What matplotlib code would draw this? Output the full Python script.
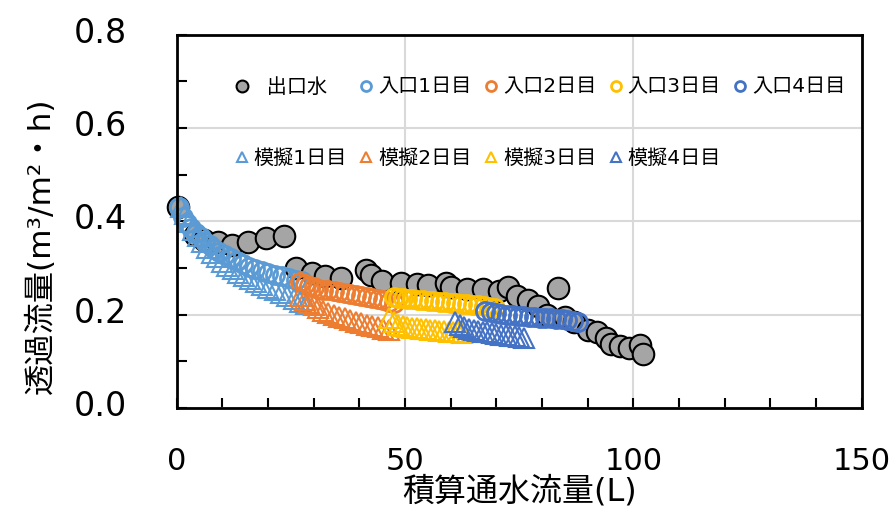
import matplotlib
matplotlib.use("Agg")
import matplotlib.pyplot as plt
from matplotlib.ticker import MultipleLocator, FormatStrFormatter
from matplotlib.transforms import ScaledTranslation

plt.rcParams['font.family'] = ['DejaVu Sans', 'Noto Sans CJK JP']

# 出口水
out_x = [0.3, 4, 6, 9, 12, 15.5, 19.5, 23.5, 26, 29.5, 32.5, 36, 41.5, 42.5, 45, 49,
         52.5, 55, 59, 60, 63.5, 67, 70.5, 72.5, 74.5, 77, 79, 83.5, 81, 85, 87, 90,
         92, 94, 95, 97, 99, 101.5, 102]
out_y = [0.43, 0.37, 0.36, 0.355, 0.35, 0.355, 0.365, 0.368, 0.30, 0.29, 0.282, 0.278,
         0.296, 0.285, 0.272, 0.268, 0.265, 0.264, 0.267, 0.26, 0.256, 0.256, 0.25, 0.26,
         0.24, 0.232, 0.218, 0.258, 0.20, 0.195, 0.184, 0.168, 0.162, 0.15, 0.138, 0.132,
         0.128, 0.135, 0.115]

# 入口 (circles)
in1_x = [0.5, 1.3, 2.2, 3.2, 4.2, 5.2, 6.2, 7.2, 8.2, 9.3, 10.5, 11.8, 13.1, 14.4,
         15.8, 17.2, 18.6, 20, 21.5, 23, 24.5, 26, 27.5]
in1_y = [0.43, 0.41, 0.397, 0.385, 0.375, 0.366, 0.357, 0.349, 0.342, 0.335, 0.328,
         0.321, 0.315, 0.309, 0.303, 0.298, 0.294, 0.29, 0.286, 0.282, 0.278, 0.275, 0.272]
in2_x = [27, 28, 29, 30, 31, 32, 33.2, 34.4, 35.6, 36.8, 38, 39.2, 40.4, 41.6, 42.8,
         44, 45.2, 46.4, 47.6]
in2_y = [0.27, 0.265, 0.262, 0.259, 0.256, 0.254, 0.252, 0.25, 0.248, 0.246, 0.244,
         0.242, 0.24, 0.238, 0.236, 0.234, 0.231, 0.228, 0.225]
in3_x = [47.5, 48.5, 49.5, 50.5, 51.6, 52.8, 54, 55.2, 56.4, 57.6, 58.8, 60, 61.2,
         62.4, 63.6, 64.8, 66, 67.2, 68.4, 69.6]
in3_y = [0.238, 0.236, 0.235, 0.234, 0.233, 0.232, 0.231, 0.23, 0.229, 0.228, 0.227,
         0.226, 0.225, 0.224, 0.222, 0.221, 0.22, 0.218, 0.216, 0.214]
in4_x = [67.5, 68.7, 69.9, 71.1, 72.3, 73.5, 74.7, 75.9, 77.1, 78.3, 79.5, 80.7, 81.9,
         83.1, 84.3, 85.5, 86.7, 87.9]
in4_y = [0.207, 0.205, 0.203, 0.202, 0.2, 0.199, 0.198, 0.197, 0.196, 0.195, 0.194,
         0.193, 0.192, 0.191, 0.19, 0.189, 0.187, 0.185]

# 模擬 (triangles)
sim1_x = [1, 1.8, 2.7, 3.6, 4.6, 5.6, 6.6, 7.6, 8.7, 9.8, 11, 12.2, 13.4, 14.7, 16,
          17.3, 18.6, 20, 21.4, 22.8, 24.2, 25.6, 27, 28.2]
sim1_y = [0.43, 0.415, 0.398, 0.382, 0.368, 0.355, 0.343, 0.333, 0.323, 0.314, 0.305,
          0.297, 0.29, 0.283, 0.276, 0.27, 0.264, 0.258, 0.252, 0.246, 0.24, 0.234,
          0.228, 0.222]
sim2_x = [27, 28, 29, 30, 31, 32, 33.2, 34.4, 35.6, 36.8, 38, 39.2, 40.4, 41.6, 42.8,
          44, 45.2, 46.4]
sim2_y = [0.24, 0.232, 0.226, 0.22, 0.214, 0.209, 0.204, 0.2, 0.196, 0.192, 0.188,
          0.185, 0.182, 0.179, 0.176, 0.173, 0.17, 0.167]
sim3_x = [46.5, 47.5, 48.5, 49.5, 50.5, 51.5, 52.5, 53.5, 54.5, 55.5, 56.5, 57.5,
          58.5, 59.5, 60.5, 61.5, 62.5]
sim3_y = [0.193, 0.185, 0.178, 0.175, 0.173, 0.172, 0.171, 0.17, 0.169, 0.168, 0.167,
          0.166, 0.165, 0.164, 0.163, 0.162, 0.161]
sim4_x = [61, 62, 63, 64, 65, 66, 67, 68, 69, 70, 71, 72, 73, 74, 75, 76]
sim4_y = [0.185, 0.178, 0.173, 0.17, 0.168, 0.166, 0.164, 0.162, 0.16, 0.158, 0.157,
          0.156, 0.155, 0.154, 0.152, 0.15]

day_colors = ['#5B9BD5', '#ED7D31', '#FFC000', '#4472C4']
in_series = [(in1_x, in1_y), (in2_x, in2_y), (in3_x, in3_y), (in4_x, in4_y)]
sim_series = [(sim1_x, sim1_y), (sim2_x, sim2_y), (sim3_x, sim3_y), (sim4_x, sim4_y)]

fig = plt.figure(figsize=(8.93, 5.12), dpi=100)
ax = fig.add_axes([0.198, 0.203, 0.767, 0.729])

ax.plot(out_x, out_y, 'o', ls='none', ms=15.5, mfc='#A5A5A5', mec='black', mew=1.5,
        clip_on=False, label='  出口水')
for i, (x, y) in enumerate(in_series):
    ax.plot(x, y, 'o', ls='none', ms=13, mfc='none', mec=day_colors[i], mew=2,
            clip_on=False, label=f'入口{i + 1}日目')
for i, (x, y) in enumerate(sim_series):
    ax.plot(x, y, '^', ls='none', ms=14, mfc='none', mec=day_colors[i], mew=1.5,
            clip_on=False, label=f'模擬{i + 1}日目')

ax.set_xlim(0, 150)
ax.set_ylim(0, 0.8)
ax.xaxis.set_major_locator(MultipleLocator(50))
ax.xaxis.set_minor_locator(MultipleLocator(10))
ax.set_yticks([0, 0.2, 0.4, 0.6, 0.8])
ax.yaxis.set_minor_locator(MultipleLocator(0.1))
ax.yaxis.set_major_formatter(FormatStrFormatter('%.1f'))
ax.tick_params(which='both', direction='in', length=7, width=1.5)
ax.tick_params(axis='y', labelsize=24, pad=36)
ax.tick_params(axis='x', labelsize=22, pad=28)
ax.grid(True, which='major', color='#D9D9D9', lw=1.5)
ax.set_axisbelow(True)
for s in ax.spines.values():
    s.set_linewidth(2)

# Excel puts the y labels a little above their ticks
shift = ScaledTranslation(0, 0.05, fig.dpi_scale_trans)
for t in ax.yaxis.get_major_ticks():
    t.label1.set_transform(t.label1.get_transform() + shift)

ax.set_xlabel('積算通水流量(L)', fontsize=23, labelpad=0)
ax.set_ylabel('透過流量(m³/m²・h)', fontsize=22.5)
ax.yaxis.set_label_coords(-0.176, 0.435)

# legend: first row 出口水 + 入口, second row 模擬
h, l = ax.get_legend_handles_labels()
order = [0, 5, 1, 6, 2, 7, 3, 8, 4]
ax.legend([h[i] for i in order], [l[i] for i in order], ncol=5, loc='upper left',
          bbox_to_anchor=(0.086, 0.885), frameon=False, fontsize=14.5, markerscale=0.55,
          handlelength=0.6, handletextpad=0.3, columnspacing=0.65, labelspacing=2.6,
          borderpad=0, borderaxespad=0)

fig.savefig('out.png', dpi=100)
